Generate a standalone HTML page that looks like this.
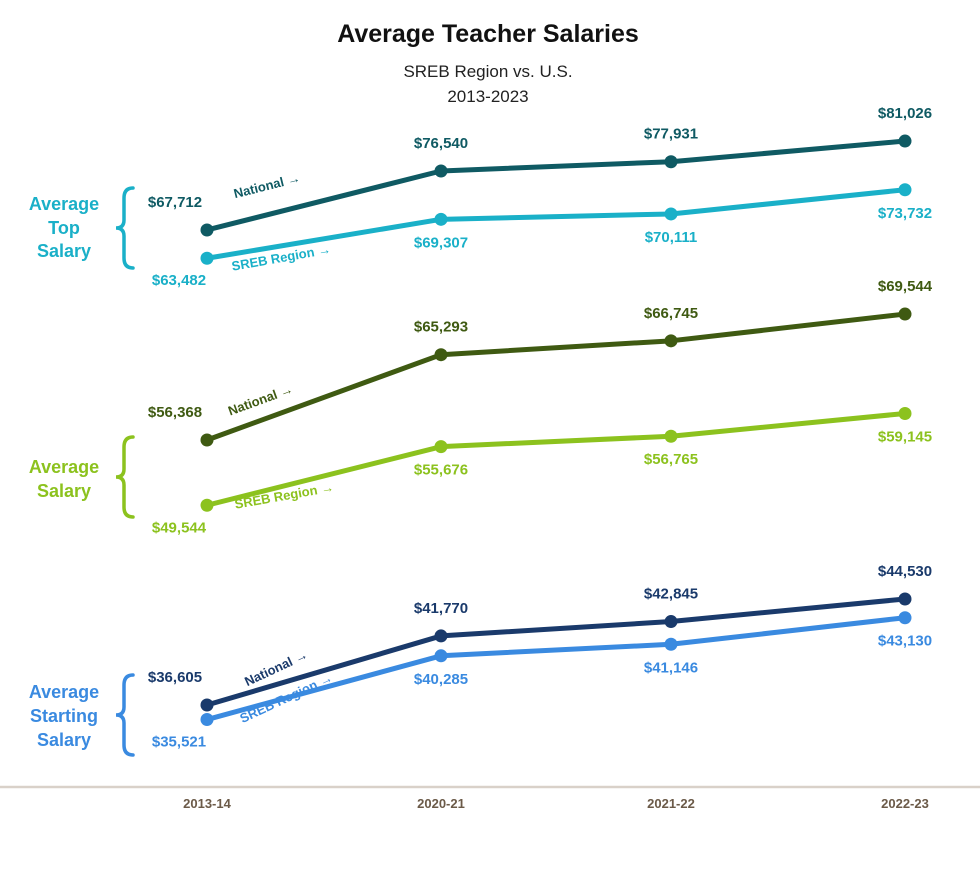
<!DOCTYPE html>
<html><head><meta charset="utf-8"><style>
body{margin:0;background:#fff;}
svg text{font-family:"Liberation Sans",sans-serif;}
</style></head><body>
<svg width="980" height="864" viewBox="0 0 980 864" xmlns="http://www.w3.org/2000/svg">
<text x="488" y="42" text-anchor="middle" font-size="25" font-weight="bold" fill="#111">Average Teacher Salaries</text>
<text x="488" y="77" text-anchor="middle" font-size="17" fill="#222">SREB Region vs. U.S.</text>
<text x="488" y="102" text-anchor="middle" font-size="17" fill="#222">2013-2023</text>
<line x1="0" y1="787" x2="980" y2="787" stroke="#d9d1c9" stroke-width="2.5"/>
<g id="marks"></g>
</svg>
<script>
const categories=["2013-14","2020-21","2021-22","2022-23"];
const topNational=[67712,76540,77931,81026];
const topSreb=[63482,69307,70111,73732];
const avgNational=[56368,65293,66745,69544];
const avgSreb=[49544,55676,56765,59145];
const startNational=[36605,41770,42845,44530];
const startSreb=[35521,40285,41146,43130];
const groupTitles=[["Average","Top","Salary"],["Average","Salary"],["Average","Starting","Salary"]];

const NS="http://www.w3.org/2000/svg";
const g=document.getElementById('marks');
function el(t,a,txt){const e=document.createElementNS(NS,t);for(const k in a)e.setAttribute(k,a[k]);if(txt!==undefined)e.textContent=txt;g.appendChild(e);return e;}
const xPos=[207,441,671,905];
function x(i){return xPos[i];}
function mkY(d0,d1,r0,r1){return v=>r0+(v-d0)/(d1-d0)*(r1-r0);}
const panels=[
 {name:'top',nat:topNational,sreb:topSreb,y:mkY(60000,85000,281.5,114.5),cN:'#0f5a63',cS:'#1ab0c8',title:groupTitles[0],ty:[210,234,257],brace:[188,268],natRot:-14,srebRot:-10,natLab:[268,190],srebLab:[282,262]},
 {name:'average',nat:avgNational,sreb:avgSreb,y:mkY(45000,70000,548.7,309.7),cN:'#3f5a12',cS:'#8cc21e',title:groupTitles[1],ty:[473,497],brace:[437,517],natRot:-20,srebRot:-10,natLab:[262,404],srebLab:[285,500]},
 {name:'starting',nat:startNational,sreb:startSreb,y:mkY(35000,45000,726.5,592.7),cN:'#1a3a6b',cS:'#3a8ae0',title:groupTitles[2],ty:[698,722,746],brace:[675,755],natRot:-25,srebRot:-25,natLab:[278,672],srebLab:[288,702]}
];
function fmt(v){return '$'+v.toLocaleString('en-US');}
panels.forEach(p=>{
  [['national',p.nat,p.cN],['sreb',p.sreb,p.cS]].forEach(([s,arr,c])=>{
    const pts=arr.map((v,i)=>x(i)+','+p.y(v)).join(' ');
    const l=el('polyline',{points:pts,fill:'none',stroke:c,'stroke-width':5,'stroke-linejoin':'round'});
    
    
    arr.forEach((v,i)=>{
      const d=el('circle',{cx:x(i),cy:p.y(v),r:6.5,fill:c});
      
      
      let lx=x(i),ly;
      if(s==='national'){ly=p.y(v)-23; if(i===0){lx=x(i)-32;}}
      else{ly=p.y(v)+28; if(i===0){lx=x(i)-28;ly=p.y(v)+27;}}
      const t=el('text',{x:lx,y:ly,'text-anchor':'middle','font-size':15,'font-weight':'bold',fill:c},fmt(v));
      
      
    });
  });
  const a=el('text',{x:p.natLab[0],y:p.natLab[1],'text-anchor':'middle','font-size':13,'font-weight':'bold',fill:p.cN,transform:`rotate(${p.natRot} ${p.natLab[0]} ${p.natLab[1]})`},'National →');
  
  
  const b=el('text',{x:p.srebLab[0],y:p.srebLab[1],'text-anchor':'middle','font-size':13,'font-weight':'bold',fill:p.cS,transform:`rotate(${p.srebRot} ${p.srebLab[0]} ${p.srebLab[1]})`},'SREB Region →');
  
  
  p.title.forEach((w,i)=>{
    const t=el('text',{x:64,y:p.ty[i],'text-anchor':'middle','font-size':18,'font-weight':'bold',fill:p.cS},w);
    
    
  });
  const t0=p.brace[0],t1=p.brace[1],m=(t0+t1)/2;
  const br=el('path',{d:`M133 ${t0} Q124 ${t0} 124 ${t0+10} L124 ${m-8} Q124 ${m} 116 ${m} Q124 ${m} 124 ${m+8} L124 ${t1-10} Q124 ${t1} 133 ${t1}`,fill:'none',stroke:p.cS,'stroke-width':3.5,'stroke-linecap':'round'});
  
  
});
categories.forEach((c,i)=>{
  const t=el('text',{x:x(i),y:808,'text-anchor':'middle','font-size':13,'font-weight':'bold',fill:'#6b5a48'},c);
  
  
});
</script>
</body></html>
